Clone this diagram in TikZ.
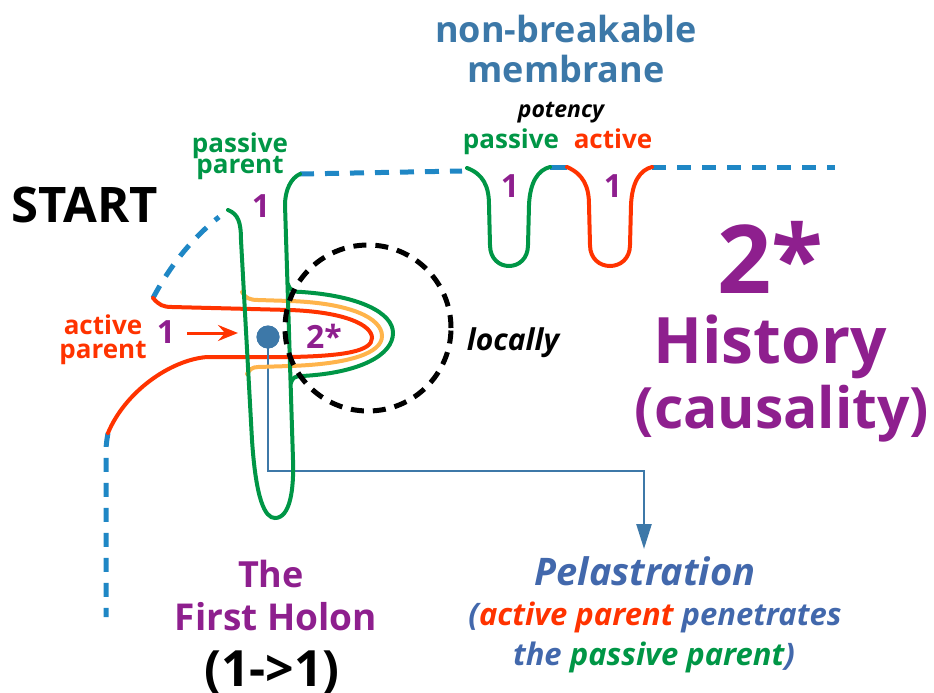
\documentclass[tikz,border=0pt]{standalone}
\usepackage{fontspec}
\setmainfont{Open Sans}
\usetikzlibrary{arrows.meta}
\definecolor{mgreen}{RGB}{0,150,70}
\definecolor{mred}{RGB}{255,51,0}
\definecolor{morange}{RGB}{255,180,75}
\definecolor{mdash}{RGB}{31,135,197}
\definecolor{mtitle}{RGB}{60,120,168}
\definecolor{mpurple}{RGB}{142,31,142}
\definecolor{mpel}{RGB}{66,104,172}
\definecolor{mconn}{RGB}{61,120,168}
\tikzset{
  txt/.style={anchor=base,inner sep=0pt,font=\bfseries},
  itx/.style={anchor=base,inner sep=0pt,font=\bfseries\itshape},
  fs/.style={font=\bfseries\fontsize{#1}{#1}\selectfont},
  fsi/.style={font=\bfseries\itshape\fontsize{#1}{#1}\selectfont},
  membr/.style={draw=mdash,line width=5pt,dash pattern=on 14pt off 11pt},
  grline/.style={draw=mgreen,line width=4pt,line cap=round},
  rdline/.style={draw=mred,line width=4pt,line cap=round},
  orline/.style={draw=morange,line width=4pt,line cap=round},
  conn/.style={draw=mconn,line width=2.5pt},
}
\begin{document}
\begin{tikzpicture}[x=1pt,y=-1pt]
\useasboundingbox (0,0) rectangle (934,693);
% coordinates
\coordinate (mA) at (300,174);
\coordinate (mB) at (462,171);
\coordinate (u1a) at (467,168);
\coordinate (u1b) at (550,167);
\coordinate (u2a) at (567,167);
\coordinate (u2b) at (652,167);
\coordinate (mC) at (835,167);
\coordinate (arcA) at (153,298);
\coordinate (arcB) at (219,217);
\coordinate (vA) at (108,433);
\coordinate (vB) at (106,617);
% membrane dashed lines
\draw[membr] (mA) -- (mB);
\draw[membr] (u2b) -- (mC);
\draw[draw=mdash,line width=5pt] (u1b) -- (u2a);
\draw[membr] (arcA) .. controls (172,262) and (195,236) .. (arcB);
\draw[membr] (vA) .. controls (106,445) .. (106,460) -- (vB);
% U shapes
\draw[grline] (u1a) .. controls (483,174) and (489,186) .. (489,205) -- (490,245)
  .. controls (490,273) and (528,273) .. (528,245) -- (529,205)
  .. controls (530,182) and (538,170) .. (u1b);
\draw[rdline] (u2a) .. controls (583,174) and (589,186) .. (589,205) -- (590,245)
  .. controls (590,273) and (630,273) .. (630,245) -- (631,205)
  .. controls (632,182) and (640,170) .. (u2b);
% connector (under green)
\node[circle,fill=mconn,minimum size=23pt,inner sep=0pt] (dot) at (268,337) {};
\coordinate (c1) at (268,471);
\coordinate (c2) at (644,471);
\coordinate (c3) at (644,549);
\draw[conn,-{Triangle[length=25pt,width=15pt]}] (dot.center) -- (c1) -- (c2) -- (c3);
% red loop
\draw[rdline] (arcA) .. controls (159,305) and (163,307) .. (172,307) -- (290,310)
  .. controls (345,312) and (372,325) .. (372,338)
  .. controls (372,351) and (345,356) .. (290,357) -- (207,357)
  .. controls (170,360) and (125,392) .. (vA);
% orange loop
\draw[orline] (242,292) .. controls (245,298) and (250,300) .. (258,300) -- (290,301)
  .. controls (350,303) and (382,318) .. (382,336)
  .. controls (382,353) and (350,364) .. (290,366) -- (258,367)
  .. controls (252,367) and (249,370) .. (247,374);
% green passive parent
\draw[grline] (228,210) .. controls (238,214) and (241,222) .. (241,240) -- (252,440)
  .. controls (256,500) and (265,518) .. (275,518)
  .. controls (290,518) and (294,490) .. (293,460) -- (285,205)
  .. controls (285,190) and (291,178) .. (mA);
\draw[grline] (288,284) .. controls (290,291) and (294,292) .. (302,292)
  .. controls (360,296) and (393,313) .. (393,333)
  .. controls (393,355) and (360,373) .. (302,376)
  .. controls (295,376) and (292,378) .. (291,383);
% dot again on top
\fill[mconn] (dot) circle (11.5pt);
\draw[conn] (dot.center) -- (268,360);
% dashed circle
\draw[line width=5pt,dash pattern=on 13pt off 9pt] (368,328) circle (83pt);
% red arrow
\coordinate (raA) at (187,333);
\coordinate (raB) at (238,333);
\draw[draw=mred,line width=3pt,-{Stealth[length=20pt,width=16pt,inset=7pt]}] (raA) -- (raB);
% texts
\node[txt,fs=36,text=mtitle] (t1) at (566,43) {non-breakable};
\node[txt,fs=36,text=mtitle] (t2) at (566,82) {membrane};
\node[itx,fsi=23] (pot) at (561,117) {potency};
\node[txt,fs=26,text=mgreen] (pas) at (511,148) {passive};
\node[txt,fs=26,text=mred] (act) at (613,148) {active};
\node[txt,fs=32,text=mpurple] (o1) at (510,197) {1};
\node[txt,fs=32,text=mpurple] (o2) at (613,197) {1};
\node[txt,fs=26,text=mgreen] (pp1) at (240,152) {passive};
\node[txt,fs=26,text=mgreen] (pp2) at (240,173) {parent};
\node[txt,fs=32,text=mpurple] (o3) at (261,217) {1};
\node[txt,fs=49] (start) at (85,222) {START};
\node[txt,fs=26,text=mred] (ap1) at (103,334) {active};
\node[txt,fs=26,text=mred] (ap2) at (103,358) {parent};
\node[txt,fs=32,text=mpurple] (o4) at (166,343) {1};
\node[txt,fs=32,text=mpurple] (two) at (324,348) {2*};
\node[itx,fsi=30] (loc) at (513,350) {locally};
\node[txt,fs=95,text=mpurple] (big) at (770,293) {2*};
\node[txt,fs=64,text=mpurple] (hist) at (770,363) {History};
\node[txt,fs=57,text=mpurple] (caus) at (782,428) {(causality)};
\node[txt,fs=36,text=mpurple] (the) at (271,587) {The};
\node[txt,fs=37,text=mpurple] (fh) at (276,630) {First Holon};
\node[txt,fs=50] (oo) at (272,686) {(1->1)};
\node[itx,fsi=38,text=mpel] (pl) at (645,585) {Pelastration};
\node[itx,fsi=31,text=mpel] (pl2) at (655,625) {(\textcolor{mred}{active parent} penetrates};
\node[itx,fsi=31,text=mpel] (pl3) at (654,665) {the \textcolor{mgreen}{passive parent})};
\end{tikzpicture}
\end{document}
